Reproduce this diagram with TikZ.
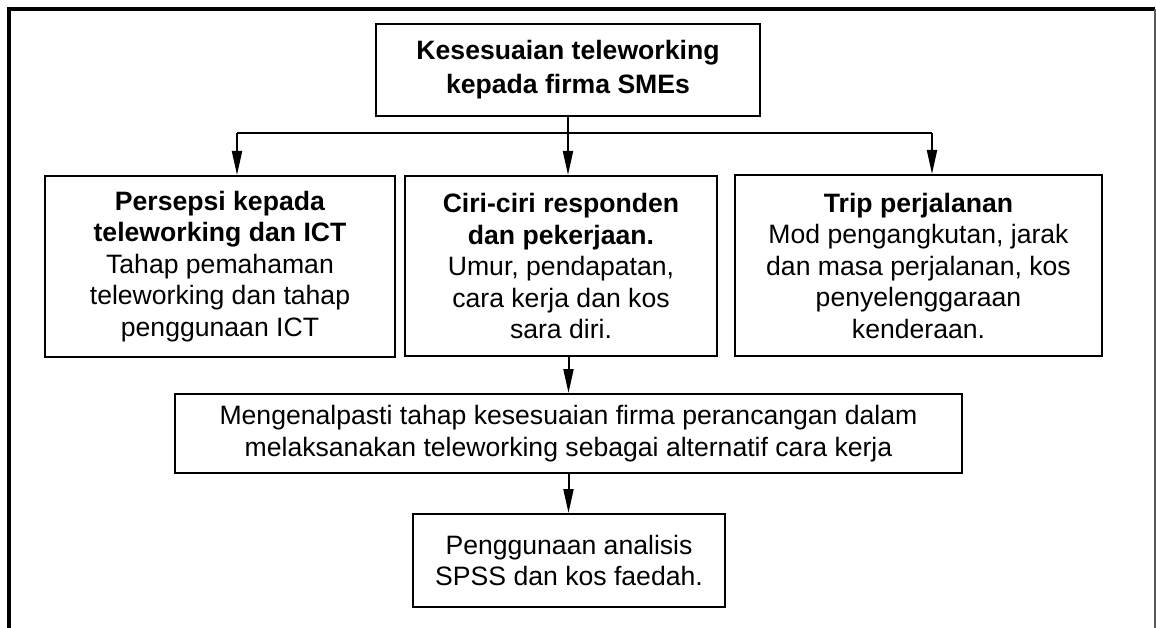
\documentclass[tikz,border=0pt]{standalone}
\usepackage{fontspec}
\setmainfont{Liberation Sans}
\usetikzlibrary{arrows.meta}

\begin{document}
\begin{tikzpicture}[
  x=1pt, y=-1pt,
  box/.style={draw=black, line width=2pt, align=center, inner sep=0pt,
              font=\fontsize{26.6}{31.5}\selectfont},
  link/.style={line width=2pt},
  arrow/.style={line width=2pt, -{Triangle[length=24pt, width=10pt]}},
]
\useasboundingbox (0,0) rectangle (1156,628);

% outer frame (open at the bottom)
\draw[line width=4pt, line join=miter] (9,628) -- (9,9) -- (1155,9);
\draw[gray!70!black, line width=1.5pt] (1155,9) -- (1155,628);

% boxes
\node[box, font=\fontsize{26.6}{34}\selectfont,
      minimum width=384pt, minimum height=92pt] (top) at (568,70)
  {\textbf{Kesesuaian teleworking}\\ \textbf{kepada firma SMEs}};

\node[box, minimum width=350pt, minimum height=181pt] (p) at (220,266.5)
  {\textbf{Persepsi kepada}\\ \textbf{teleworking dan ICT}\\ Tahap pemahaman\\
   teleworking dan tahap\\ penggunaan ICT};

\node[box, minimum width=312pt, minimum height=180pt] (c) at (561,266)
  {\textbf{Ciri-ciri responden}\\ \textbf{dan pekerjaan.}\\ Umur, pendapatan,\\
   cara kerja dan kos\\ sara diri.};

\node[box, minimum width=367pt, minimum height=181pt] (t) at (918.5,265.5)
  {\textbf{Trip perjalanan}\\ Mod pengangkutan, jarak\\ dan masa perjalanan, kos\\
   penyelenggaraan\\ kenderaan.};

\node[box, minimum width=787pt, minimum height=79pt] (m) at (568.5,433.5)
  {Mengenalpasti tahap kesesuaian firma perancangan dalam\\
   melaksanakan teleworking sebagai alternatif cara kerja};

\node[box, minimum width=312pt, minimum height=93pt] (s) at (569,560.5)
  {Penggunaan analisis\\ SPSS dan kos faedah.};

% branching connectors
\coordinate (bl) at (237,133);
\coordinate (br) at (932,133);
\draw[link] (bl) -- (br);
\draw[arrow] (top.south) -- (top.south |- c.north);
\draw[arrow] (bl) -- (bl |- p.north);
\draw[arrow] (br) -- (br |- t.north);
\draw[arrow] (m.north |- c.south) -- (m.north);
\draw[arrow] (m.south) -- (m.south |- s.north);
\end{tikzpicture}
\end{document}
